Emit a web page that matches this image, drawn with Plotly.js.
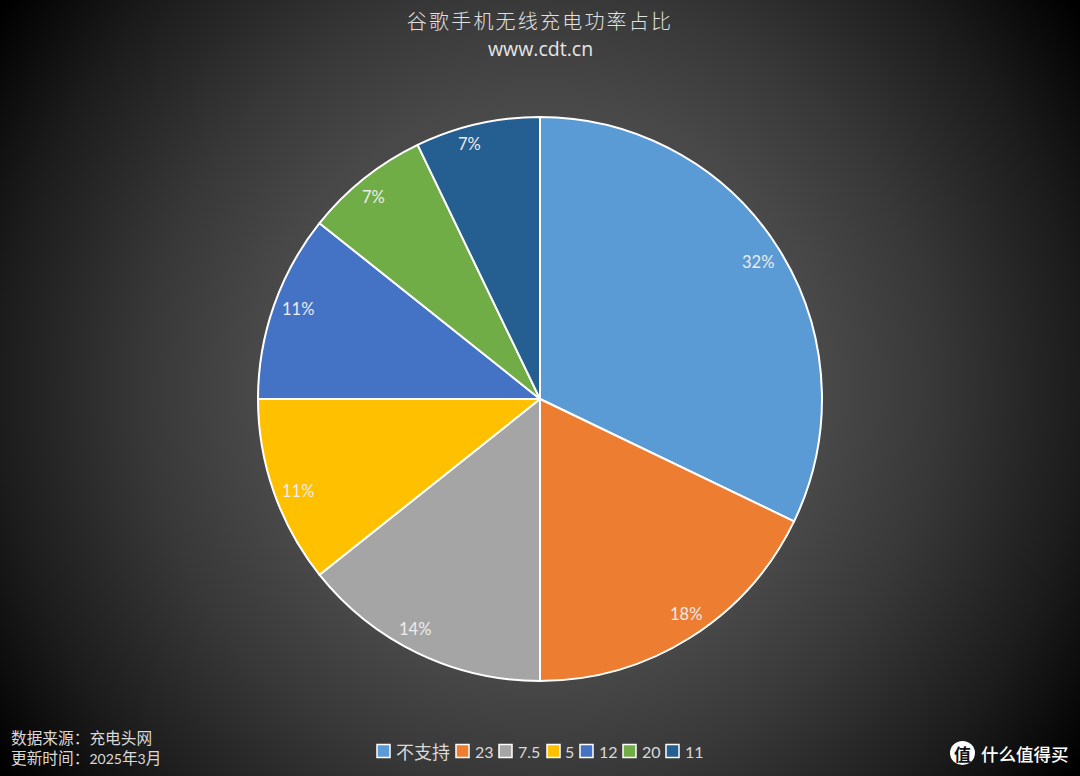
<!DOCTYPE html>
<html><head><meta charset="utf-8">
<script src="https://cdn.plot.ly/plotly-3.0.1.min.js"></script>
<style>
html,body{margin:0;padding:0;width:1080px;height:776px;overflow:hidden;
background:radial-gradient(circle 660px at 540px 388px,#606060 0%,#484848 44%,#383838 60%,#1c1c1c 82%,#000 100%);}
#chart{width:1080px;height:776px;}
.gtitle{letter-spacing:2.2px;}
</style></head><body><div id="chart"></div>
<script>
const categories=['不支持','23','7.5','5','12','20','11'];
const counts=[9,5,4,3,3,2,2];
const colors=['#5B9BD5','#ED7D31','#A5A5A5','#FFC000','#4472C4','#70AD47','#255E91'];
const chartTitle='谷歌手机无线充电功率占比';
const subTitle='www.cdt.cn';
const sourceText='数据来源\uFF1A充电头网<br>更新时间\uFF1A<span style="font-family:Lato;font-size:14px">2025</span>年<span style="font-family:Lato;font-size:14px">3</span>月';
const brandText='什么值得买';

const W=1080,H=776,cx=540,cy=399,R=282;
const px=x=>x/W, py=y=>1-y/H;
const cjk='"Noto Sans CJK SC"', lat='Lato,"Noto Sans CJK SC"';
const total=counts.reduce((a,b)=>a+b,0);
const ann=[], shapes=[];

// percentage labels near the outer edge of each slice, with small nudges
const labelR=[258,258,262,255,255,262,262];
const labelDX=[0,9,-11,-1,-1,-3,-12];
const labelDY=[0,3,6,-8,6,-3,0];
let acc=0;
counts.forEach((v,i)=>{
  const th=(acc+v/2)/total*2*Math.PI; acc+=v;
  ann.push({xref:'paper',yref:'paper',x:px(cx+labelR[i]*Math.sin(th)),y:py(cy-labelR[i]*Math.cos(th)),
    xshift:labelDX[i],yshift:labelDY[i],
    text:Math.round(v/total*100)+'%',showarrow:false,xanchor:'center',yanchor:'middle',
    font:{family:lat,size:16.5,color:'#ececec'}});
});
// hand-laid legend (tighter than the native one)
const swX=[377,456,499,547,580,623,666];
const txX=[394,473,516,563,597,640,683];
categories.forEach((c,i)=>{
  shapes.push({type:'rect',xref:'paper',yref:'paper',x0:px(swX[i]),x1:px(swX[i]+13),y0:py(757.5),y1:py(744.5),
    fillcolor:colors[i],line:{color:'#ffffff',width:1.5}});
  ann.push({xref:'paper',yref:'paper',x:px(txX[i]),y:py(751),text:c,showarrow:false,xanchor:'left',yanchor:'middle',
    font:{family:i==0?cjk:lat,size:i==0?18:16,color:'#d9d9d9'}});
});
ann.push({xref:'paper',yref:'paper',x:px(540),y:py(48),text:subTitle,showarrow:false,xanchor:'center',yanchor:'middle',
  font:{family:'"Open Sans"',size:19.5,color:'#e6e6e6'}});
ann.push({xref:'paper',yref:'paper',x:px(9),y:py(747),text:sourceText,showarrow:false,xanchor:'left',yanchor:'middle',align:'left',
  font:{family:cjk,size:15.7,color:'#d9d9d9'}});
shapes.push({type:'circle',xref:'paper',yref:'paper',x0:px(950),x1:px(975),y0:py(765),y1:py(741),fillcolor:'#ffffff',line:{width:0}});
ann.push({xref:'paper',yref:'paper',x:px(962.5),y:py(753),text:'值',showarrow:false,xanchor:'center',yanchor:'middle',
  font:{family:cjk,size:17,color:'#111111',weight:700}});
ann.push({xref:'paper',yref:'paper',x:px(979),y:py(753),text:brandText,showarrow:false,xanchor:'left',yanchor:'middle',
  font:{family:cjk,size:17.5,color:'#ffffff',weight:500}});

Plotly.newPlot('chart',[{type:'pie',labels:categories,values:counts,sort:false,direction:'clockwise',rotation:0,
  marker:{colors:colors,line:{color:'#ffffff',width:2}},textinfo:'none',hoverinfo:'label+percent',showlegend:false,
  domain:{x:[px(cx-R),px(cx+R)],y:[py(cy+R),py(cy-R)]}}],
 {width:W,height:H,margin:{l:0,r:0,t:0,b:0},paper_bgcolor:'rgba(0,0,0,0)',plot_bgcolor:'rgba(0,0,0,0)',showlegend:false,
  title:{text:chartTitle,x:0.5,xanchor:'center',y:py(22),yanchor:'middle',yref:'container',font:{family:cjk,size:20,color:'#e0e0e0',weight:300}},
  annotations:ann,shapes:shapes},{displayModeBar:false});
</script></body></html>
